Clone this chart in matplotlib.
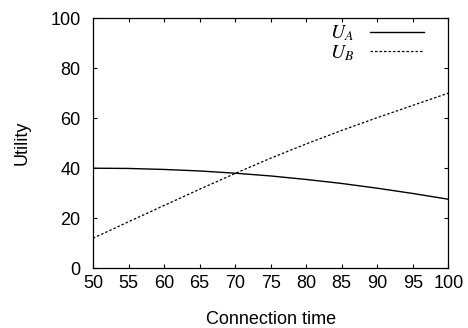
import matplotlib
matplotlib.use("Agg")
import matplotlib.pyplot as plt

plt.rcParams['font.family'] = ['Liberation Sans', 'DejaVu Sans']
plt.rcParams['mathtext.fontset'] = 'stix'

t = [50, 55, 60, 65, 70, 75, 80, 85, 90, 95, 100]
u_a = [40.0, 39.9, 39.5, 38.9, 38.0, 36.9, 35.5, 33.9, 32.0, 29.9, 27.6]
u_b = [12.0, 18.6, 25.1, 31.6, 37.9, 44.0, 49.7, 55.1, 60.2, 65.1, 70.0]
xticks = [50, 55, 60, 65, 70, 75, 80, 85, 90, 95, 100]
yticks = [0, 20, 40, 60, 80, 100]

fig = plt.figure(figsize=(4.68, 3.28), dpi=100)
ax = fig.add_axes([0.1987, 0.182, 0.958 - 0.1987, 0.945 - 0.182])

ax.plot(t, u_a, color='black', lw=1.0, label=r'$U_A$')
lb, = ax.plot(t, u_b, color='black', lw=0.9, label=r'$U_B$')
lb.set_dashes((2.0, 1.6))

ax.set_xlim(50, 100)
ax.set_ylim(0, 100)
ax.set_xticks(xticks)
ax.set_yticks(yticks)
ax.tick_params(direction='in', length=3, width=0.8, top=True, right=True,
               labelsize=13)
ax.tick_params(axis='x', pad=4.5)
ax.tick_params(axis='y', pad=9)
for s in ax.spines.values():
    s.set_linewidth(0.9)

ax.set_xlabel('Connection time', fontsize=13, labelpad=14)
ax.set_ylabel('Utility', fontsize=13, labelpad=14)

leg = ax.legend(loc='upper right', bbox_to_anchor=(0.965, 1.025), frameon=False,
                markerfirst=False, fontsize=14, handlelength=2.8,
                labelspacing=0.0, handletextpad=0.8, borderaxespad=0.2)

fig.savefig('out.png', dpi=100)
